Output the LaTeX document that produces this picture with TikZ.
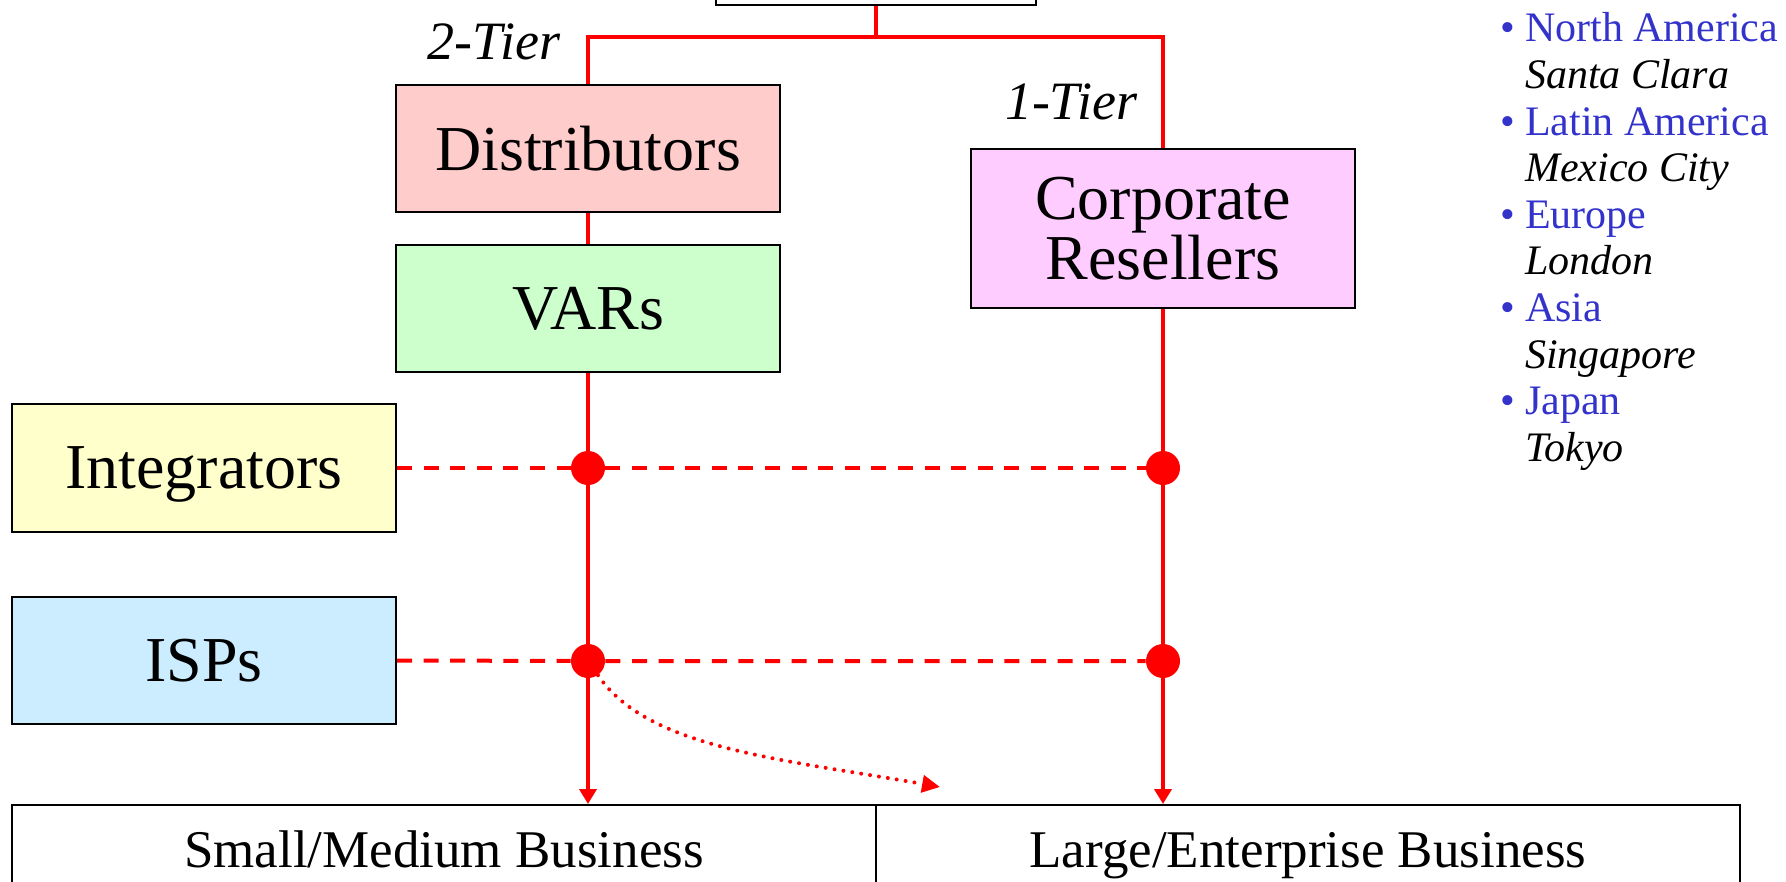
\documentclass[tikz,border=0pt]{standalone}
\usepackage{fontspec}
\setmainfont{Liberation Serif}
\usetikzlibrary{arrows.meta}
\definecolor{blueT}{RGB}{51,51,204}
\definecolor{distc}{RGB}{255,204,204}
\definecolor{varc}{RGB}{204,255,204}
\definecolor{corpc}{RGB}{255,204,255}
\definecolor{intc}{RGB}{255,255,204}
\definecolor{ispc}{RGB}{204,236,255}
\begin{document}
\begin{tikzpicture}[x=0.5pt,y=-0.5pt,
  box/.style={draw=black,line width=1pt,minimum width=192pt,inner sep=0pt,
    font=\fontsize{32pt}{30pt}\selectfont,align=center},
  redline/.style={draw=red,line width=2pt},
  reddash/.style={draw=red,line width=2pt,dash pattern=on 7.5pt off 5.8pt},
  dot/.style={circle,fill=red,minimum size=17pt,inner sep=0pt},
  tier/.style={font=\fontsize{27pt}{30pt}\selectfont\itshape,inner sep=0pt},
  downarrow/.style={redline,-{Triangle[length=7.5pt,width=8.5pt]}},
  dotarrow/.style={draw=red,line width=2pt,line cap=round,
    dash pattern=on 0pt off 4.5pt,-{Triangle[length=9pt,width=8.5pt]}},
  bottombox/.style={draw=black,line width=1pt,minimum width=432pt,
    minimum height=44pt,inner sep=0pt,text height=18.5pt,text depth=0pt,
    font=\fontsize{26.5pt}{30pt}\selectfont}
]
\useasboundingbox (0,0) rectangle (1786,882);
\clip (0,0) rectangle (1786,882);

% boxes
\node[box,minimum width=160pt,minimum height=32.5pt] (top) at (876,-27.5) {};
\node[box,fill=distc,minimum height=63.5pt] (dist) at (588,148.5) {Distributors};
\node[box,fill=varc,minimum height=63.5pt] (vars) at (588,308.5) {VARs};
\node[box,fill=corpc,minimum height=79.5pt] (corp) at (1163,228.5) {Corporate\\Resellers};
\node[box,fill=intc,minimum height=64pt,text depth=0pt] (integ) at (204,468) {Integrators};
\node[box,fill=ispc,minimum height=63.5pt] (isps) at (204,660.5) {ISPs};
\node[bottombox] (small) at (444,849) {Small/Medium Business};
\node[bottombox] (large) at (1308,849) {Large/Enterprise Business};

% tier labels
\node[tier] (t2) at (494,42) {2-Tier};
\node[tier] (t1) at (1071,102) {1-Tier};

% junctions
\coordinate (j) at (876,37);
\coordinate (tip) at (940,787);
\node[dot] (d1) at (588,468) {};
\node[dot] (d2) at (1163,468) {};
\node[dot] (d3) at (588,661) {};
\node[dot] (d4) at (1163,661) {};

% connectors
\draw[redline] (top.south) -- (j);
\draw[redline] (dist.north) |- (j) -| (corp.north);
\draw[redline] (dist.south) -- (vars.north);
\draw[redline] (vars.south) -- (d1) -- (d3);
\draw[downarrow] (d3) -- (d3 |- small.north);
\draw[redline] (corp.south) -- (d2) -- (d4);
\draw[downarrow] (d4) -- (d4 |- large.north);
\draw[reddash] (integ.east) -- (d1) -- (d2);
\draw[reddash] (isps.east) -- (d3) -- (d4);
\draw[dotarrow] (d3.-55) .. controls (648,749) and (782,759) .. (tip);

% legend
\node[anchor=base west,inner sep=0pt,font=\fontsize{21pt}{23.3pt}\selectfont] (legend) at (1500,42) {%
\begin{tabular}[t]{@{}l@{\hspace{5pt}}l@{}}
\textcolor{blueT}{\textbullet} & \textcolor{blueT}{North America}\\
 & \textit{Santa Clara}\\
\textcolor{blueT}{\textbullet} & \textcolor{blueT}{Latin America}\\
 & \textit{Mexico City}\\
\textcolor{blueT}{\textbullet} & \textcolor{blueT}{Europe}\\
 & \textit{London}\\
\textcolor{blueT}{\textbullet} & \textcolor{blueT}{Asia}\\
 & \textit{Singapore}\\
\textcolor{blueT}{\textbullet} & \textcolor{blueT}{Japan}\\
 & \textit{Tokyo}
\end{tabular}};
\end{tikzpicture}
\end{document}
